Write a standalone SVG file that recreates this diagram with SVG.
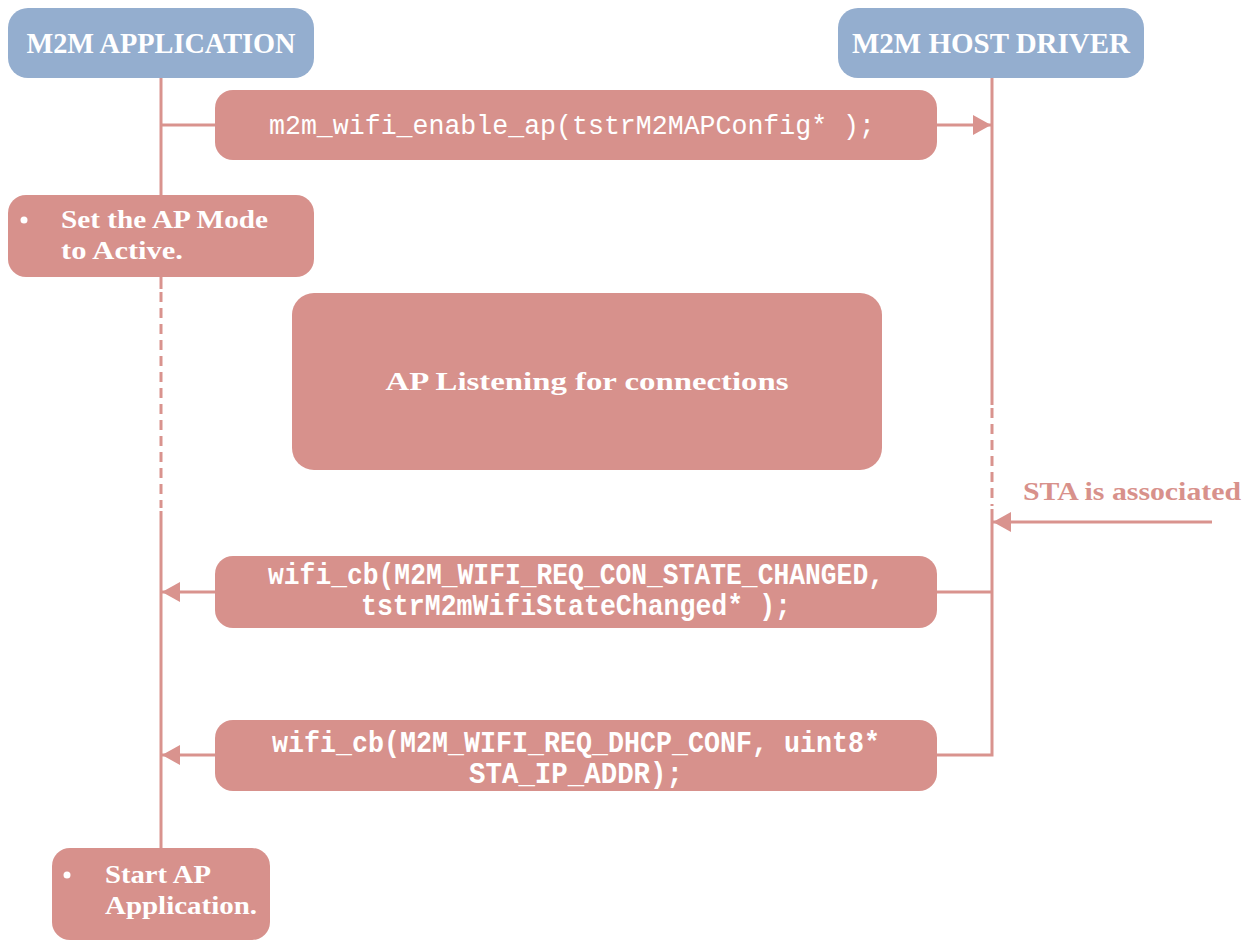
<svg xmlns="http://www.w3.org/2000/svg" width="1254" height="941" viewBox="0 0 1254 941">
<defs>
<style>
.hdr{fill:#94aecf}
.box{fill:#d7918c}
.ln{stroke:#d9938e;stroke-width:3;fill:none}
.dash{stroke-dasharray:10 6}
.ht{font-family:"Liberation Serif",serif;font-weight:bold;font-size:30px;fill:#ffffff}
.st{font-family:"Liberation Serif",serif;font-weight:bold;font-size:25px;fill:#ffffff}
.mono{font-family:"Liberation Mono",monospace;font-size:27px;fill:#ffffff}
.monob{font-family:"Liberation Mono",monospace;font-size:29px;font-weight:bold;fill:#ffffff}
.lbl{font-family:"Liberation Serif",serif;font-weight:bold;font-size:26px;fill:#d8918b}
</style>
<marker id="arr" viewBox="0 0 18 20" refX="18" refY="10" markerWidth="18" markerHeight="20" orient="auto" markerUnits="userSpaceOnUse">
<path d="M0,0 L18,10 L0,20 z" fill="#d9938e"/>
</marker>
</defs>
<rect width="1254" height="941" fill="#ffffff"/>

<g id="connectors">
<line class="ln" x1="161" y1="78" x2="161" y2="195"/>
<line class="ln" x1="161" y1="277" x2="161" y2="289"/>
<line class="ln dash" x1="161" y1="292" x2="161" y2="508"/>
<line class="ln" x1="161" y1="511" x2="161" y2="848"/>
<line class="ln" x1="992" y1="78" x2="992" y2="405"/>
<line class="ln dash" x1="992" y1="408" x2="992" y2="506"/>
<polyline class="ln" points="992,509 992,755 937,755"/>
<line class="ln" x1="161" y1="125" x2="215" y2="125"/>
<line class="ln" x1="937" y1="125" x2="991" y2="125" marker-end="url(#arr)"/>
<line class="ln" x1="1212" y1="522" x2="993" y2="522" marker-end="url(#arr)"/>
<line class="ln" x1="992" y1="592" x2="937" y2="592"/>
<line class="ln" x1="215" y1="592" x2="162" y2="592" marker-end="url(#arr)"/>
<line class="ln" x1="215" y1="755" x2="162" y2="755" marker-end="url(#arr)"/>
</g>

<g id="m2m-application">
<rect class="hdr" x="8" y="8" width="306" height="70" rx="20"/>
<text class="ht" x="161" y="53" text-anchor="middle" textLength="269" lengthAdjust="spacingAndGlyphs">M2M APPLICATION</text>
</g>

<g id="m2m-host-driver">
<rect class="hdr" x="838" y="8" width="306" height="70" rx="20"/>
<text class="ht" x="991" y="53" text-anchor="middle" textLength="278" lengthAdjust="spacingAndGlyphs">M2M HOST DRIVER</text>
</g>

<g id="enable-ap">
<rect class="box" x="215" y="90" width="722" height="70" rx="18"/>
<text class="mono" x="572" y="134" text-anchor="middle" textLength="606" lengthAdjust="spacingAndGlyphs">m2m_wifi_enable_ap(tstrM2MAPConfig* );</text>
</g>

<g id="set-ap-mode">
<rect class="box" x="8" y="195" width="306" height="82" rx="18"/>
<circle cx="24" cy="220" r="3.5" fill="#ffffff"/>
<text class="st" x="61" y="228" textLength="207" lengthAdjust="spacingAndGlyphs">Set the AP Mode</text>
<text class="st" x="61" y="259" textLength="122" lengthAdjust="spacingAndGlyphs">to Active.</text>
</g>

<g id="ap-listening">
<rect class="box" x="292" y="293" width="590" height="177" rx="22"/>
<text class="st" x="587" y="390" text-anchor="middle" font-size="28" textLength="403" lengthAdjust="spacingAndGlyphs">AP Listening for connections</text>
</g>

<g id="sta-associated">
<text class="lbl" x="1023" y="500" textLength="218" lengthAdjust="spacingAndGlyphs">STA is associated</text>
</g>

<g id="cb-state-changed">
<rect class="box" x="215" y="556" width="722" height="72" rx="18"/>
<text class="monob" x="576" y="584" text-anchor="middle" textLength="616" lengthAdjust="spacingAndGlyphs">wifi_cb(M2M_WIFI_REQ_CON_STATE_CHANGED,</text>
<text class="monob" x="576" y="615" text-anchor="middle" textLength="430" lengthAdjust="spacingAndGlyphs">tstrM2mWifiStateChanged* );</text>
</g>

<g id="cb-dhcp-conf">
<rect class="box" x="215" y="720" width="722" height="71" rx="18"/>
<text class="monob" x="576" y="752" text-anchor="middle" textLength="608" lengthAdjust="spacingAndGlyphs">wifi_cb(M2M_WIFI_REQ_DHCP_CONF, uint8*</text>
<text class="monob" x="576" y="783" text-anchor="middle" textLength="214" lengthAdjust="spacingAndGlyphs">STA_IP_ADDR);</text>
</g>

<g id="start-ap-app">
<rect class="box" x="52" y="848" width="218" height="92" rx="18"/>
<circle cx="67" cy="875" r="3.5" fill="#ffffff"/>
<text class="st" x="105" y="883" textLength="106" lengthAdjust="spacingAndGlyphs">Start AP</text>
<text class="st" x="105" y="914" textLength="152" lengthAdjust="spacingAndGlyphs">Application.</text>
</g>
</svg>
